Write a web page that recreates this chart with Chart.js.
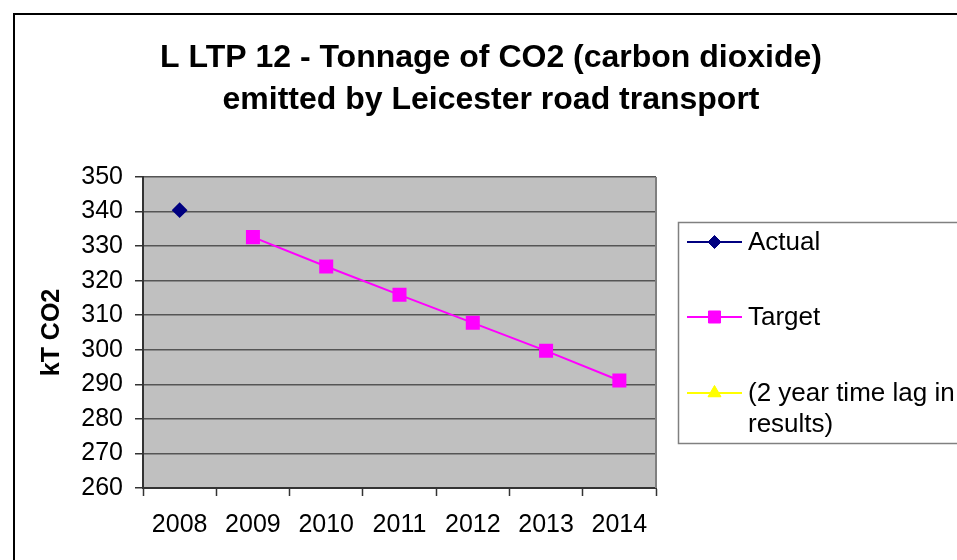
<!DOCTYPE html>
<html>
<head>
<meta charset="utf-8">
<script src="https://cdn.jsdelivr.net/npm/chart.js@4.4.1/dist/chart.umd.min.js"></script>
<style>
  html, body { margin:0; padding:0; background:#fff; overflow:hidden; }
  #wrap { position:relative; width:957px; height:560px; }
  #frame { position:absolute; left:13px; top:13px; width:1000px; height:600px; border:2px solid #000; pointer-events:none; }
  canvas { position:absolute; left:0; top:0; }
</style>
</head>
<body>
<div id="wrap">
  <canvas id="co2Chart" width="957" height="560"></canvas>
  <div id="frame"></div>
</div>
<script>
// data
const years = ['2008','2009','2010','2011','2012','2013','2014'];
const actualValues = [340.4, null, null, null, null, null, null];
const targetValues = [null, 332.6, 324.1, 315.9, 307.8, 299.7, 291.1];
const lagValues = [null, null, null, null, null, null, null];
const titleLines = ['L LTP 12 - Tonnage of CO2 (carbon dioxide)', 'emitted by Leicester road transport'];
const legendLabels = [['Actual'], ['Target'], ['(2 year time lag in', 'results)']];

const FONT = "'Liberation Sans', Arial, sans-serif";

// plot background, border, title and the boxed legend
const decor = {
  id: 'decor',
  beforeDraw(chart){
    const a = chart.chartArea, ctx = chart.ctx;
    ctx.save();
    ctx.fillStyle = '#c0c0c0';
    ctx.fillRect(a.left, a.top, a.right - a.left, a.bottom - a.top);
    ctx.restore();
  },
  afterDraw(chart){
    const a = chart.chartArea, ctx = chart.ctx;
    ctx.save();
    // right edge of plot
    ctx.strokeStyle = '#808080'; ctx.lineWidth = 2;
    ctx.beginPath(); ctx.moveTo(a.right, a.top); ctx.lineTo(a.right, a.bottom); ctx.stroke();

    // title
    ctx.fillStyle = '#000';
    ctx.font = 'bold 32px ' + FONT;
    ctx.textAlign = 'center'; ctx.textBaseline = 'middle';
    titleLines.forEach((t, i) => ctx.fillText(t, 491, 58 + i * 42));

    // legend box
    ctx.strokeStyle = '#808080'; ctx.lineWidth = 1.5;
    ctx.strokeRect(678.5, 222.5, 320, 221);
    const rows = [242, 317, 393];
    ctx.font = '26px ' + FONT;
    ctx.textAlign = 'left';
    chart.data.datasets.forEach((ds, i) => {
      const y = rows[i];
      ctx.strokeStyle = ds.borderColor; ctx.lineWidth = 2;
      ctx.beginPath(); ctx.moveTo(687, y); ctx.lineTo(742, y); ctx.stroke();
      ctx.fillStyle = ds.pointBackgroundColor; ctx.strokeStyle = ds.pointBorderColor; ctx.lineWidth = 1;
      Chart.helpers.drawPoint(ctx, { pointStyle: ds.pointStyle, radius: ds.pointRadius, rotation: 0, borderWidth: 1 }, 714.5, y);
      ctx.fill();
      ctx.fillStyle = '#000';
      legendLabels[i].forEach((t, j) => ctx.fillText(t, 748, y + 1 + j * 31));
    });
    ctx.restore();
  }
};

const ctx = document.getElementById('co2Chart');
new Chart(ctx, {
  type: 'line',
  data: {
    labels: years,
    datasets: [
      { label: 'Actual', data: actualValues, borderColor: '#000080', backgroundColor: '#000080',
        pointBackgroundColor: '#000080', pointBorderColor: '#000080', pointStyle: 'rectRot', pointRadius: 6.5, borderWidth: 2 },
      { label: 'Target', data: targetValues, borderColor: '#ff00ff', backgroundColor: '#ff00ff',
        pointBackgroundColor: '#ff00ff', pointBorderColor: '#ff00ff', pointStyle: 'rect', pointRadius: 8.5, borderWidth: 2 },
      { label: '(2 year time lag in results)', data: lagValues, borderColor: '#ffff00', backgroundColor: '#ffff00',
        pointBackgroundColor: '#ffff00', pointBorderColor: '#ffff00', pointStyle: 'triangle', pointRadius: 7.5, borderWidth: 2 }
    ]
  },
  options: {
    responsive: false,
    animation: false,
    layout: { padding: { top: 177, right: 301, bottom: 0, left: 0 } },
    plugins: { legend: { display: false }, title: { display: false }, tooltip: { enabled: false } },
    scales: {
      x: {
        offset: true,
        grid: { offset: true, drawOnChartArea: false, tickLength: 8, tickColor: '#333', tickWidth: 1.5 },
        border: { color: '#333', width: 2 },
        ticks: { color: '#000', font: { family: FONT, size: 25 }, padding: 14, maxRotation: 0 },
        afterFit(scale){ scale.height = 72; }
      },
      y: {
        min: 260, max: 350,
        ticks: { stepSize: 10, color: '#000', font: { family: FONT, size: 25 }, padding: 12 },
        grid: { color: '#555', lineWidth: 1.5, tickLength: 8, tickColor: '#333', tickWidth: 1.5 },
        border: { color: '#333', width: 2 },
        title: { display: true, text: 'kT CO2', color: '#000', font: { family: FONT, size: 25, weight: 'bold' }, padding: { top: 37, bottom: 0 } },
        afterFit(scale){ scale.width = 143; }
      }
    }
  },
  plugins: [decor]
});
</script>
</body>
</html>
